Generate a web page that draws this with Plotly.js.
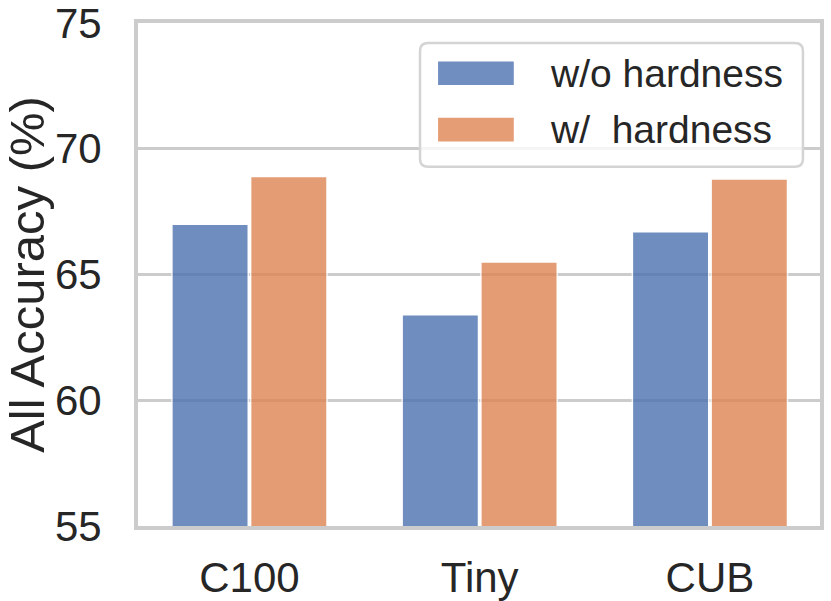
<!DOCTYPE html>
<html>
<head>
<meta charset="utf-8">
<script src="https://cdn.plot.ly/plotly-3.0.1.min.js"></script>
<style>html,body{margin:0;padding:0;background:#fff;}#chart{width:831px;height:601px;}</style>
</head>
<body>
<div id="chart"></div>
<script>
// Data
const categories = ["C100", "Tiny", "CUB"];
const seriesNames = ["w/o hardness", "w/\u00a0\u00a0hardness"];
const withoutHardness = [67.0, 63.4, 66.7];
const withHardness = [68.9, 65.5, 68.8];
const yTicks = [55, 60, 65, 70, 75];
const colors = ["#4c72b0", "#dd8452"];

const FONT = "Liberation Sans, Arial, sans-serif";
const TXT = "#262626";

const traces = [withoutHardness, withHardness].map((vals, i) => ({
  type: "bar",
  name: seriesNames[i],
  x: categories,
  y: vals,
  marker: { color: colors[i], opacity: 0.8, line: { color: "#ffffff", width: 1.5 } },
  showlegend: false,
  hoverinfo: "x+y"
}));

// Custom legend (box, swatches, labels) in paper coordinates
const L = { x0: 0.4135, x1: 0.975, y0: 0.714, y1: 0.960, rx: 0.012, ry: 0.016 };
const boxPath = `M${L.x0 + L.rx},${L.y0} L${L.x1 - L.rx},${L.y0} Q${L.x1},${L.y0} ${L.x1},${L.y0 + L.ry} ` +
  `L${L.x1},${L.y1 - L.ry} Q${L.x1},${L.y1} ${L.x1 - L.rx},${L.y1} L${L.x0 + L.rx},${L.y1} ` +
  `Q${L.x0},${L.y1} ${L.x0},${L.y1 - L.ry} L${L.x0},${L.y0 + L.ry} Q${L.x0},${L.y0} ${L.x0 + L.rx},${L.y0} Z`;
const shapes = [{
  type: "path", xref: "paper", yref: "paper", path: boxPath,
  fillcolor: "rgba(255,255,255,0.8)", line: { color: "#d4d4d4", width: 2.5 }, layer: "above"
}];
const rowCenters = [0.900, 0.788];
const annotations = [];
seriesNames.forEach((name, i) => {
  shapes.push({
    type: "rect", xref: "paper", yref: "paper",
    x0: 0.440, x1: 0.551, y0: rowCenters[i] - 0.0235, y1: rowCenters[i] + 0.0235,
    fillcolor: colors[i], opacity: 0.8, line: { width: 0 }, layer: "above"
  });
  annotations.push({
    xref: "paper", yref: "paper", x: 0.601, y: rowCenters[i],
    xanchor: "left", yanchor: "middle", showarrow: false, text: name,
    font: { family: FONT, size: 39, color: TXT }
  });
});

const layout = {
  width: 831, height: 601,
  margin: { l: 138, r: 11, t: 23, b: 75 },
  paper_bgcolor: "#ffffff", plot_bgcolor: "#ffffff",
  barmode: "group", bargap: 0.316, bargroupgap: 0.03,
  font: { family: FONT, size: 42, color: TXT },
  xaxis: {
    type: "category", range: [-0.484, 2.478],
    showline: true, mirror: true, linecolor: "#cccccc", linewidth: 4,
    showgrid: false, ticks: "", ticklabelstandoff: 12, ticklabeloverflow: "allow",
    tickfont: { family: FONT, size: 42, color: TXT }, fixedrange: true
  },
  yaxis: {
    range: [55, 75], tickvals: yTicks, ticktext: yTicks.map(String),
    showline: true, mirror: true, linecolor: "#cccccc", linewidth: 4,
    showgrid: true, gridcolor: "#cccccc", gridwidth: 3, zeroline: false,
    ticks: "", ticklabelstandoff: 24, ticklabeloverflow: "allow",
    tickfont: { family: FONT, size: 42, color: TXT },
    title: { text: "All Accuracy (%)", font: { family: FONT, size: 49, color: TXT }, standoff: 4 },
    fixedrange: true
  },
  shapes: shapes,
  annotations: annotations
};

Plotly.newPlot("chart", traces, layout, { displayModeBar: false, staticPlot: true });
</script>
</body>
</html>
